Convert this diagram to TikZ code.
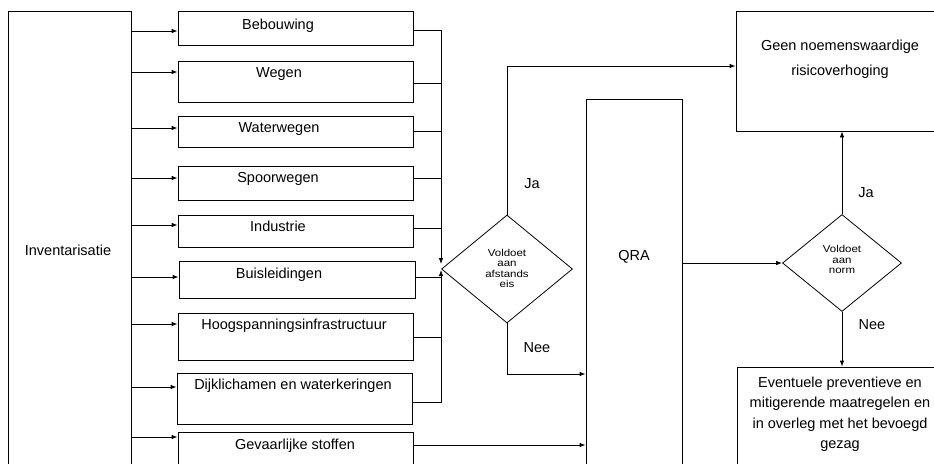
\documentclass[tikz,border=0pt]{standalone}
\usepackage{graphicx}
\usepackage{fontspec}
\setmainfont{Liberation Sans}
\usetikzlibrary{shapes.geometric,arrows.meta,calc}
\newcommand{\dtxt}[1]{\scalebox{1.15}[1]{\fontsize{10}{10.3}\selectfont\begin{tabular}{@{}c@{}}#1\end{tabular}}}
\begin{document}
\begin{tikzpicture}[x=1pt,y=-1pt,
  box/.style={draw, line width=0.8pt, inner sep=0pt},
  lbl/.style={font=\fontsize{14.5}{17}\selectfont, inner sep=0pt, align=center},
  arr/.style={-{Latex[length=6pt,width=4.5pt]}, line width=0.8pt},
  ln/.style={line width=0.8pt},
  dec/.style={draw, diamond, line width=0.8pt, inner sep=0pt}]
\clip (0,0) rectangle (934,463);
\fill[white] (0,0) rectangle (934,463);
% left box
\node[box, minimum width=123pt, minimum height=469pt] (inv) at (69.5,245.5) {};
\node[lbl] (invt) at (68,250) {Inventarisatie};
% category boxes
\node[box, minimum width=235pt, minimum height=34pt] (beb) at (295.5,28) {};
\node[box, minimum width=235pt, minimum height=41pt] (weg) at (295.5,81.5) {};
\node[box, minimum width=235pt, minimum height=31pt] (wat) at (295.5,131.5) {};
\node[box, minimum width=235pt, minimum height=34pt] (spo) at (295.5,183) {};
\node[box, minimum width=235pt, minimum height=32pt] (ind) at (295.5,231) {};
\node[box, minimum width=236pt, minimum height=37pt] (bui) at (297,279.5) {};
\node[box, minimum width=235pt, minimum height=47pt] (hoo) at (295.5,336.5) {};
\node[box, minimum width=235pt, minimum height=51pt] (dij) at (294.5,398.5) {};
\node[box, minimum width=235pt, minimum height=50pt] (gev) at (295.5,457) {};
\node[lbl] (bebt) at (278,26) {Bebouwing};
\node[lbl] (wegt) at (279,74) {Wegen};
\node[lbl] (watt) at (279,129) {Waterwegen};
\node[lbl] (spot) at (278,179) {Spoorwegen};
\node[lbl] (indt) at (278,226) {Industrie};
\node[lbl] (buit) at (279,275) {Buisleidingen};
\node[lbl] (hoot) at (294,326) {Hoogspanningsinfrastructuur};
\node[lbl] (dijt) at (293,386) {Dijklichamen en waterkeringen};
\node[lbl] (gevt) at (295,446) {Gevaarlijke stoffen};
% arrows from Inventarisatie
\draw[arr] ([yshift=-3pt]beb.west -| inv.east) -- ([yshift=-3pt]beb.west);
\draw[arr] ([yshift=9.5pt]weg.west -| inv.east) -- ([yshift=9.5pt]weg.west);
\draw[arr] ([yshift=3.5pt]wat.west -| inv.east) -- ([yshift=3.5pt]wat.west);
\draw[arr] ([yshift=5pt]spo.west -| inv.east) -- ([yshift=5pt]spo.west);
\draw[arr] ([yshift=6pt]ind.west -| inv.east) -- ([yshift=6pt]ind.west);
\draw[arr] ([yshift=2.5pt]bui.west -| inv.east) -- ([yshift=2.5pt]bui.west);
\draw[arr] ([yshift=12.5pt]hoo.west -| inv.east) -- ([yshift=12.5pt]hoo.west);
\draw[arr] ([yshift=11.5pt]dij.west -| inv.east) -- ([yshift=11.5pt]dij.west);
\draw[arr] ([yshift=20pt]gev.west -| inv.east) -- ([yshift=20pt]gev.west);
% first decision
\node[dec, minimum width=131pt, minimum height=108pt] (d1) at (507,269) {};
\node[inner sep=0pt] (d1t) at (507,270) {\dtxt{Voldoet\\aan\\afstands\\eis}};
% collector lines
\coordinate (bus) at (441,269);
\draw[arr] ([yshift=-2pt]beb.east) -| ([yshift=5pt]bus);
\draw[ln] ([yshift=-1.5pt]weg.east) -- ([yshift=-1.5pt]weg.east -| bus);
\draw[ln] ([yshift=0.5pt]wat.east) -- ([yshift=0.5pt]wat.east -| bus);
\draw[ln] ([yshift=5pt]spo.east) -- ([yshift=5pt]spo.east -| bus);
\draw[ln] ([yshift=3pt]ind.east) -- ([yshift=3pt]ind.east -| bus);
\draw[ln] ([yshift=2.5pt]bui.east) -- ([yshift=2.5pt]bui.east -| bus);
\draw[ln] ([yshift=-0.5pt]hoo.east) -- ([yshift=-0.5pt]hoo.east -| bus);
\draw[arr] ([yshift=-3.5pt]dij.east) -| ([yshift=-1pt]bus);
% QRA
\node[box, minimum width=96pt, minimum height=381pt] (qra) at (634,289.5) {};
\node[lbl] (qrat) at (634,257) {QRA};
\draw[arr] ([yshift=12pt]gev.east) -- ([yshift=12pt]gev.east -| qra.west);
% result boxes
\node[box, minimum width=204pt, minimum height=120pt] (geen) at (838,71) {};
\node[lbl, font=\fontsize{14.5}{25}\selectfont] (geent) at (840,59.5) {Geen noemenswaardige\\risicoverhoging};
\node[box, minimum width=203pt, minimum height=113pt] (eve) at (838.5,423.5) {};
\node[lbl, font=\fontsize{14.5}{20.5}\selectfont] (evet) at (840,414) {Eventuele preventieve en\\mitigerende maatregelen en\\in overleg met het bevoegd\\gezag};
% decision 1 exits
\draw[arr] (d1.north) |- ([yshift=5pt]geen.west);
\draw[arr] (d1.south) |- ([yshift=-84.5pt]qra.west);
\node[lbl] (ja1) at (532,184) {Ja};
\node[lbl] (nee1) at (537,348) {Nee};
% second decision
\node[dec, minimum width=119pt, minimum height=97pt] (d2) at (842,263) {};
\node[inner sep=0pt] (d2t) at (842,261) {\dtxt{Voldoet\\aan\\norm}};
\draw[arr] (qra.east |- d2.west) -- (d2.west);
\draw[arr] (d2.north) -- (d2.north |- geen.south);
\draw[arr] (d2.south) -- (d2.south |- eve.north);
\node[lbl] (ja2) at (866,193) {Ja};
\node[lbl] (nee2) at (872,325) {Nee};
\end{tikzpicture}
\end{document}
